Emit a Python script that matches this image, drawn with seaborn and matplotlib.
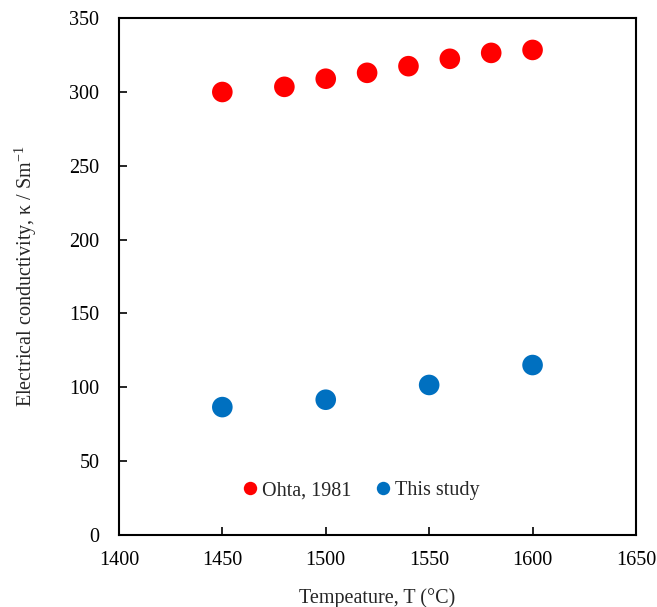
import matplotlib
matplotlib.use('Agg')
import matplotlib.pyplot as plt
import pandas as pd
import seaborn as sns

# Ohta (1981) data
ohta_temp = [1450, 1480, 1500, 1520, 1540, 1560, 1580, 1600]
ohta_kappa = [300, 303.5, 309, 313, 317.5, 322.5, 326.5, 328.5]

# This study
study_temp = [1450, 1500, 1550, 1600]
study_kappa = [86.5, 91.5, 101.5, 115]

df = pd.concat([
    pd.DataFrame({'T': ohta_temp, 'kappa': ohta_kappa, 'source': 'Ohta, 1981'}),
    pd.DataFrame({'T': study_temp, 'kappa': study_kappa, 'source': 'This study'}),
])

sns.set_style('white')
plt.rcParams['font.family'] = ['Liberation Serif', 'DejaVu Serif']
plt.rcParams['mathtext.fontset'] = 'custom'
plt.rcParams['mathtext.rm'] = 'Liberation Serif'

fig = plt.figure(figsize=(6.57, 6.07), dpi=100)
ax = fig.add_axes([0.181, 0.119, 0.787, 0.851])

sns.scatterplot(
    data=df, x='T', y='kappa', hue='source',
    palette={'Ohta, 1981': '#ff0000', 'This study': '#0070c0'},
    s=220, edgecolor='none', ax=ax, zorder=3,
)

ax.set_xlim(1400, 1650)
ax.set_ylim(0, 350)
ax.set_xticks(range(1400, 1651, 50))
ax.set_yticks(range(0, 351, 50))
ax.tick_params(direction='in', length=6, width=1.2, labelsize=14.5, colors='black',
               bottom=True, left=True, top=False, right=False)
ax.tick_params(axis='y', pad=14)
ax.tick_params(axis='x', pad=12)
for sp in ax.spines.values():
    sp.set_color('black')
    sp.set_linewidth(1.5)

ax.set_xlabel('Tempeature, T (°C)', fontsize=14.5, labelpad=13)
ax.set_ylabel(r'Electrical conductivity, κ / Sm$^{\mathregular{-1}}$', fontsize=14.5, labelpad=22)

leg = ax.legend(loc='center', bbox_to_anchor=(0.456, 0.085), ncol=2, frameon=False,
                fontsize=14.5, handletextpad=-0.4, columnspacing=0.55, markerscale=0.65)

fig.savefig('out.png', dpi=100)
